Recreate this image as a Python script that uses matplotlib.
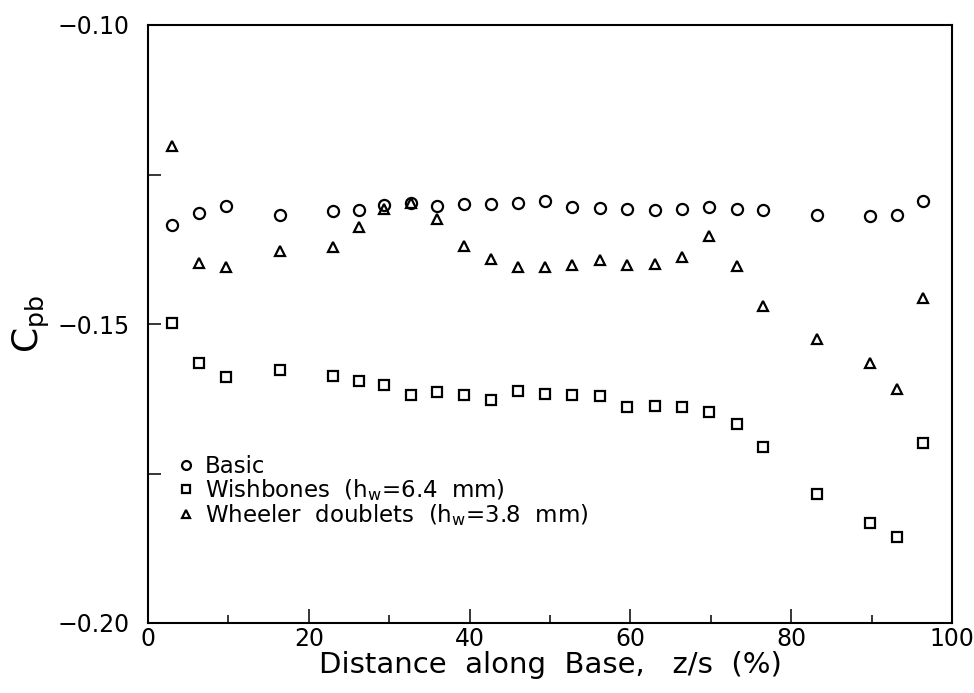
import numpy as np
import matplotlib.pyplot as plt
from matplotlib.ticker import MultipleLocator

# distance along base z/s (%), same stations for all three configurations
z_s = [3.0, 6.3, 9.7, 16.4, 23.0, 26.2, 29.4, 32.7, 36.0, 39.3, 42.6, 46.0, 49.4,
       52.7, 56.2, 59.6, 63.0, 66.4, 69.8, 73.2, 76.5, 83.2, 89.8, 93.1, 96.4]

cpb_basic = [-0.1335, -0.1314, -0.1303, -0.1317, -0.1311, -0.1310, -0.1301, -0.1298,
             -0.1303, -0.1299, -0.1299, -0.1298, -0.1295, -0.1304, -0.1306, -0.1307,
             -0.1309, -0.1307, -0.1305, -0.1307, -0.1310, -0.1318, -0.1320, -0.1318,
             -0.1295]

cpb_wishbones = [-0.1498, -0.1565, -0.1588, -0.1577, -0.1587, -0.1596, -0.1602, -0.1619,
                 -0.1614, -0.1618, -0.1627, -0.1612, -0.1617, -0.1619, -0.1620, -0.1638,
                 -0.1637, -0.1638, -0.1647, -0.1667, -0.1706, -0.1784, -0.1832, -0.1857,
                 -0.1699]

cpb_wheeler = [-0.1203, -0.1398, -0.1405, -0.1378, -0.1371, -0.1338, -0.1307, -0.1297,
               -0.1324, -0.1370, -0.1392, -0.1404, -0.1404, -0.1401, -0.1393, -0.1402,
               -0.1399, -0.1388, -0.1353, -0.1403, -0.1470, -0.1525, -0.1565, -0.1609,
               -0.1457]

labels = ['Basic',
          r'Wishbones  (h$_\mathregular{w}$=6.4  mm)',
          r'Wheeler  doublets  (h$_\mathregular{w}$=3.8  mm)']

plt.rcParams['font.family'] = 'DejaVu Sans'
plt.rcParams['mathtext.default'] = 'regular'

fig = plt.figure(figsize=(9.74, 6.93), dpi=100)
ax = fig.add_axes([148 / 974, 1 - 623 / 693, 804 / 974, 598 / 693])

mk = dict(linestyle='none', color='black', mfc='none', mew=1.6)
ax.plot(z_s, cpb_basic, marker='o', markersize=8, label=labels[0], **mk)
ax.plot(z_s, cpb_wishbones, marker='s', markersize=6.5, label=labels[1], **mk)
ax.plot(z_s, cpb_wheeler, marker='^', markersize=7.5, label=labels[2], **mk)

ax.set_xlim(0, 100)
ax.set_ylim(-0.20, -0.10)
ax.xaxis.set_major_locator(MultipleLocator(20))
ax.xaxis.set_minor_locator(MultipleLocator(10))
ax.yaxis.set_minor_locator(MultipleLocator(0.025))
ax.set_yticks([-0.20, -0.15, -0.10])
ax.set_yticklabels(['\u22120.20', '\u22120.15', '\u22120.10'])

ax.tick_params(axis='both', which='both', direction='in', width=1.1,
               top=False, right=False, labelsize=17)
ax.tick_params(axis='x', which='major', length=10, pad=3)
ax.tick_params(axis='x', which='minor', length=6)
ax.tick_params(axis='y', which='both', length=9, pad=13)
for s in ax.spines.values():
    s.set_linewidth(1.5)

ax.set_xlabel('Distance  along  Base,   z/s  (%)', fontsize=21, labelpad=0)
ax.set_ylabel(r'C$_{\mathregular{pb}}$', fontsize=26, labelpad=4)

leg = ax.legend(loc='upper left', bbox_to_anchor=(0.025, 0.30), frameon=False,
                fontsize=16.5, handlelength=0.6, handletextpad=0.5,
                labelspacing=-0.05, borderpad=0, markerscale=0.8)

fig.savefig('out.png', dpi=100)
